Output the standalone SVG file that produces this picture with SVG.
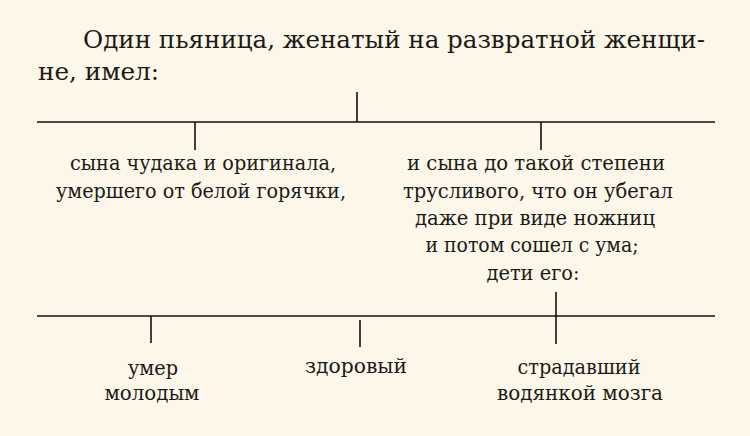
<svg xmlns="http://www.w3.org/2000/svg" width="750" height="436" viewBox="0 0 750 436">
<style>
.bg{fill:#fdf7ea}
.t{font-family:'DejaVu Serif Condensed','DejaVu Serif',serif;fill:#1c1a17}
.h{font-size:25px}
.n{font-size:19.5px;text-anchor:middle}
.c{stroke:#111;stroke-width:1.6;fill:none}
</style>
<rect class="bg" x="0" y="0" width="750" height="436"/>
<g id="title">
<text class="t h" x="83" y="48" textLength="622" lengthAdjust="spacingAndGlyphs">Один пьяница, женатый на развратной женщи-</text>
<text class="t h" x="38" y="80" textLength="121" lengthAdjust="spacingAndGlyphs">не, имел:</text>
</g>
<g id="connectors">
<line class="c" x1="357" y1="92" x2="357" y2="122"/>
<line class="c" x1="37" y1="122" x2="715" y2="122"/>
<line class="c" x1="195" y1="122" x2="195" y2="150"/>
<line class="c" x1="541" y1="122" x2="541" y2="150"/>
<line class="c" x1="556" y1="292" x2="556" y2="344"/>
<line class="c" x1="37" y1="316" x2="715" y2="316"/>
<line class="c" x1="151" y1="316" x2="151" y2="343"/>
<line class="c" x1="360" y1="320" x2="360" y2="347"/>
</g>
<g id="son1">
<text class="t n" x="203" y="170" textLength="266" lengthAdjust="spacingAndGlyphs">сына чудака и оригинала,</text>
<text class="t n" x="201" y="198" textLength="290" lengthAdjust="spacingAndGlyphs">умершего от белой горячки,</text>
</g>
<g id="son2">
<text class="t n" x="536" y="170" textLength="258" lengthAdjust="spacingAndGlyphs">и сына до такой степени</text>
<text class="t n" x="538" y="198" textLength="270" lengthAdjust="spacingAndGlyphs">трусливого, что он убегал</text>
<text class="t n" x="535" y="225" textLength="240" lengthAdjust="spacingAndGlyphs">даже при виде ножниц</text>
<text class="t n" x="532" y="252" textLength="213" lengthAdjust="spacingAndGlyphs">и потом сошел с ума;</text>
<text class="t n" x="533" y="280" textLength="93" lengthAdjust="spacingAndGlyphs">дети его:</text>
</g>
<g id="child1">
<text class="t n" x="153" y="375" textLength="50" lengthAdjust="spacingAndGlyphs">умер</text>
<text class="t n" x="152" y="400" textLength="95" lengthAdjust="spacingAndGlyphs">молодым</text>
</g>
<g id="child2">
<text class="t n" x="356" y="373" textLength="102" lengthAdjust="spacingAndGlyphs">здоровый</text>
</g>
<g id="child3">
<text class="t n" x="579" y="374" textLength="123" lengthAdjust="spacingAndGlyphs">страдавший</text>
<text class="t n" x="580" y="400" textLength="166" lengthAdjust="spacingAndGlyphs">водянкой мозга</text>
</g>
</svg>
